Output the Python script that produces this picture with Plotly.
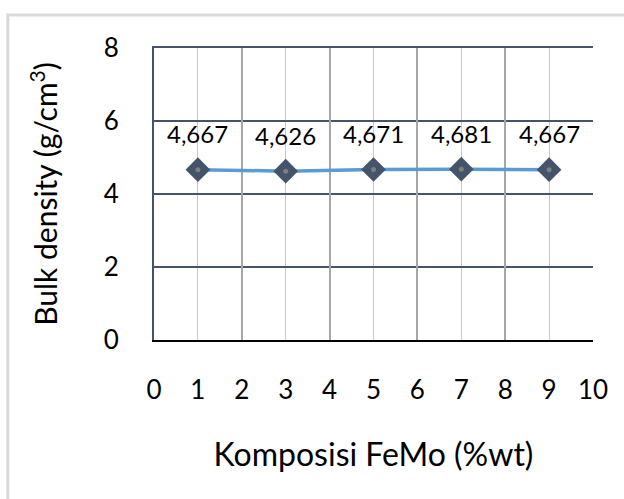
import plotly.graph_objects as go

komposisi = [1, 3, 5, 7, 9]
bulk_density = [4.667, 4.626, 4.671, 4.681, 4.667]
labels = ["4,667", "4,626", "4,671", "4,681", "4,667"]
x_ticks = list(range(0, 11))
y_ticks = [0, 2, 4, 6, 8]

FONT = "Lato"
SLATE = "#44546A"

fig = go.Figure()
fig.add_trace(go.Scatter(
    x=komposisi, y=bulk_density, mode="lines+markers",
    line=dict(color="#5B9BD5", width=3.5),
    marker=dict(symbol="diamond", size=19, color=SLATE,
                line=dict(width=0)),
    showlegend=False, hoverinfo="skip"))
fig.add_trace(go.Scatter(
    x=komposisi, y=bulk_density, mode="markers",
    marker=dict(symbol="circle", size=5, color="#7F7F7F"),
    showlegend=False, hoverinfo="skip"))

for xv, yv, t in zip(komposisi, bulk_density, labels):
    fig.add_annotation(x=xv, y=yv, text=t, showarrow=False, yshift=36,
                       font=dict(family=FONT, size=24, color="black"))

fig.update_layout(
    width=624, height=499,
    margin=dict(l=154, r=31, t=48, b=159),
    paper_bgcolor="white", plot_bgcolor="white",
    font=dict(family=FONT, color="black"),
    xaxis=dict(range=[0, 10], tickvals=x_ticks, ticktext=[str(v) for v in x_ticks],
               showgrid=True, gridcolor="#C8C8C8", gridwidth=1,
               showline=True, linecolor="black", linewidth=2,
               zeroline=False, ticks="", ticklabelstandoff=26,
               tickfont=dict(family=FONT, size=26, color="black"),
               title=dict(text="Komposisi FeMo (%wt)", standoff=39,
                          font=dict(family=FONT, size=32, color="black"))),
    xaxis2=dict(range=[0, 10], overlaying="x", side="top", dtick=2, tick0=0,
                showgrid=True, gridcolor="#A6A6A6", gridwidth=1.5,
                showline=True, linecolor=SLATE, linewidth=2,
                showticklabels=False, zeroline=False, ticks=""),
    yaxis=dict(range=[0, 8], tickvals=y_ticks,
               showgrid=True, gridcolor=SLATE, gridwidth=2,
               showline=True, linecolor=SLATE, linewidth=2, mirror=False,
               zeroline=False, ticks="", ticklabelstandoff=28,
               tickfont=dict(family=FONT, size=26, color="black"),
               title=dict(text="Bulk density (g/cm<sup>3</sup>)", standoff=37,
                          font=dict(family=FONT, size=30, color="black"))),
)
# invisible trace to activate xaxis2
fig.add_trace(go.Scatter(x=[komposisi[0]], y=[bulk_density[0]], xaxis="x2",
                         mode="markers", marker=dict(opacity=0),
                         showlegend=False, hoverinfo="skip"))
# chart border
fig.add_shape(type="rect", xref="paper", yref="paper",
              x0=-0.333, x1=1.2, y0=-0.6, y1=1.113,
              line=dict(color="#D9D9D9", width=3), layer="below")

fig.write_html("out.html")
